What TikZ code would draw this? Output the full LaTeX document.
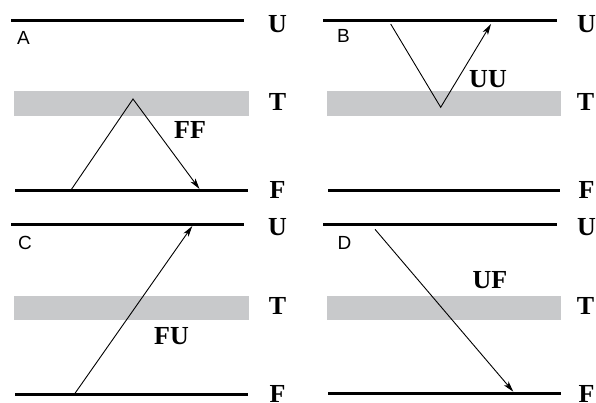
\documentclass[tikz,border=0pt]{standalone}
\usepackage{fontspec}
\setmainfont{Liberation Serif}
\newfontfamily\panelfont{Liberation Sans}
\usetikzlibrary{arrows.meta}
\definecolor{bandgray}{RGB}{200,201,203}
\tikzset{
  level/.style={line width=2.6pt},
  band/.style={fill=bandgray, draw=none},
  track/.style={line width=0.9pt, -{Stealth[length=11pt,width=6pt,inset=3pt]}},
  lvl/.style={font=\fontsize{26}{26}\selectfont\bfseries, inner sep=0pt},
  tag/.style={font=\fontsize{26}{26}\selectfont\bfseries, inner sep=0pt},
  letter/.style={font=\panelfont\fontsize{19}{19}\selectfont, inner sep=0pt}
}

\begin{document}
\begin{tikzpicture}[x=1pt, y=-1pt]
\useasboundingbox (0,0) rectangle (596,402);

% --- Panel A: FF ---
\fill[band] (14,91) rectangle (249,116);
\draw[level] (11,20.7) -- (244,20.7);
\draw[level] (15,190.7) -- (248,190.7);
\node[letter] (a-name) at (23.5,37.5) {A};
\node[lvl] (a-u) at (277.5,24.5) {U};
\node[lvl] (a-t) at (277.5,102) {T};
\node[lvl] (a-f) at (277.5,190) {F};
\coordinate (a-in) at (71,190);
\coordinate (a-turn) at (133,99);
\coordinate (a-out) at (199.5,189);
\draw[track] (a-in) -- (a-turn) -- (a-out);
\node[tag] (a-tag) at (190,130) {FF};

% --- Panel B: UU ---
\fill[band] (327,91) rectangle (561,116);
\draw[level] (323,20.7) -- (557,20.7);
\draw[level] (328,190.7) -- (560,190.7);
\node[letter] (b-name) at (343.5,35.5) {B};
\node[lvl] (b-u) at (586.5,24.5) {U};
\node[lvl] (b-t) at (585.5,102) {T};
\node[lvl] (b-f) at (586.5,190) {F};
\coordinate (b-in) at (390.7,24);
\coordinate (b-turn) at (440.7,107.3);
\coordinate (b-out) at (491,24);
\draw[track] (b-in) -- (b-turn) -- (b-out);
\node[tag] (b-tag) at (488,79.5) {UU};

% --- Panel C: FU ---
\fill[band] (14,296.3) rectangle (249,320);
\draw[level] (11,224.3) -- (244,224.3);
\draw[level] (15,394.3) -- (248,394.3);
\node[letter] (c-name) at (25,243) {C};
\node[lvl] (c-u) at (277.5,227) {U};
\node[lvl] (c-t) at (277.5,306) {T};
\node[lvl] (c-f) at (277.5,394) {F};
\coordinate (c-in) at (75,393.3);
\coordinate (c-out) at (192.3,226);
\draw[track] (c-in) -- (c-out);
\node[tag] (c-tag) at (171.5,336.5) {FU};

% --- Panel D: UF ---
\fill[band] (327,296.3) rectangle (561,320);
\draw[level] (323,224.3) -- (557,224.3);
\draw[level] (328,393.3) -- (561,393.3);
\node[letter] (d-name) at (344.5,242.5) {D};
\node[lvl] (d-u) at (586.5,227) {U};
\node[lvl] (d-t) at (585.5,306) {T};
\node[lvl] (d-f) at (586.5,394) {F};
\coordinate (d-in) at (375,229.3);
\coordinate (d-out) at (513.3,391.7);
\draw[track] (d-in) -- (d-out);
\node[tag] (d-tag) at (490,280.5) {UF};

\end{tikzpicture}
\end{document}
